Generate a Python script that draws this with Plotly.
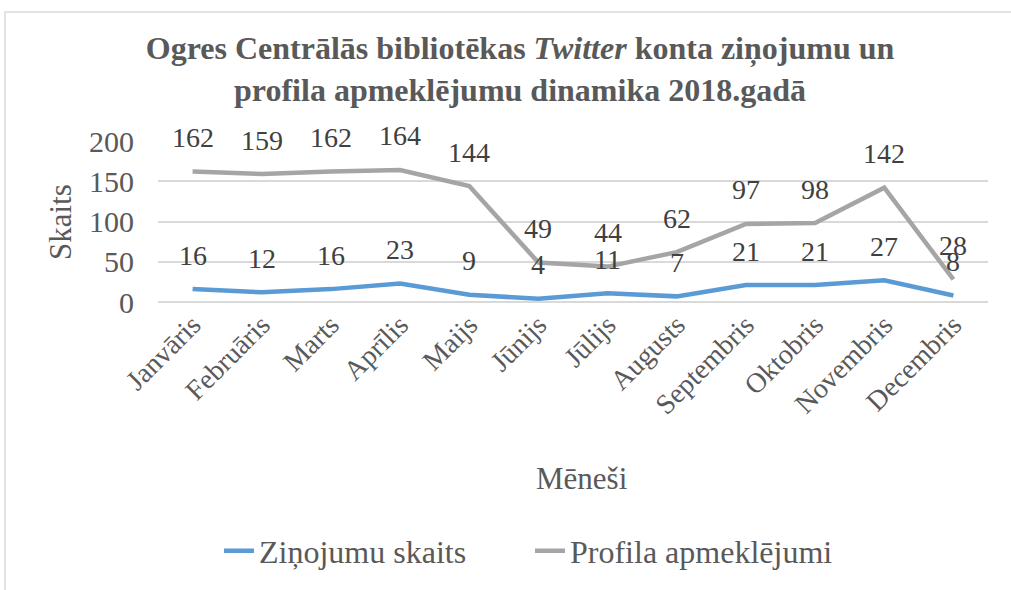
import plotly.graph_objects as go

months = ["Janvāris", "Februāris", "Marts", "Aprīlis", "Maijs", "Jūnijs",
          "Jūlijs", "Augusts", "Septembris", "Oktobris", "Novembris", "Decembris"]
zinojumi = [16, 12, 16, 23, 9, 4, 11, 7, 21, 21, 27, 8]
apmeklejumi = [162, 159, 162, 164, 144, 49, 44, 62, 97, 98, 142, 28]
y_ticks = [0, 50, 100, 150, 200]

FONT = "Liberation Serif"
W, H = 1011, 590
L, R, T, B = 158, 23, 141, 288
PW, PH = W - L - R, H - T - B

def px(X):
    return (X - L) / PW

def py(Y):
    return (H - B - Y) / PH

fig = go.Figure()
fig.add_trace(go.Scatter(x=months, y=zinojumi, mode="lines", name="Ziņojumu skaits",
                         line=dict(color="#5b9bd5", width=4.5)))
fig.add_trace(go.Scatter(x=months, y=apmeklejumi, mode="lines", name="Profila apmeklējumi",
                         line=dict(color="#a5a5a5", width=4.5)))

ann = []
for series in (zinojumi, apmeklejumi):
    for m, v in zip(months, series):
        ann.append(dict(x=m, y=v, xref="x", yref="y", text=str(v), showarrow=False,
                        yshift=34, yanchor="middle",
                        font=dict(family=FONT, size=28, color="#404040")))

ann.append(dict(x=px(60), y=py(222), xref="paper", yref="paper", text="Skaits",
                textangle=-90, showarrow=False, xanchor="center", yanchor="middle",
                font=dict(family=FONT, size=31, color="#595959")))
ann.append(dict(x=px(582), y=py(478), xref="paper", yref="paper", text="Mēneši",
                showarrow=False, xanchor="center", yanchor="middle",
                font=dict(family=FONT, size=31, color="#595959")))

fig.update_layout(
    width=W, height=H,
    margin=dict(l=L, r=R, t=T, b=B),
    paper_bgcolor="white", plot_bgcolor="white",
    font=dict(family=FONT),
    title=dict(text="Ogres Centrālās bibliotēkas <i>Twitter</i> konta ziņojumu un<br>profila apmeklējumu dinamika 2018.gadā",
               x=520 / W, xanchor="center", xref="container",
               y=1 - 59 / H, yanchor="middle", yref="container",
               font=dict(family=FONT, size=32, color="#595959", weight="bold")),
    xaxis=dict(type="category", range=[-0.5, 11.5], tickangle=-45, showgrid=False,
               showline=False, zeroline=False, ticks="", automargin=False,
               tickfont=dict(family=FONT, size=28, color="#595959")),
    yaxis=dict(range=[0, 200], tickvals=y_ticks, showgrid=True, gridcolor="#d9d9d9",
               gridwidth=1.5, zeroline=True, zerolinecolor="#d9d9d9", zerolinewidth=1.5,
               showline=False, ticks="", automargin=False, ticklabelstandoff=23,
               tickfont=dict(family=FONT, size=30, color="#595959")),
    legend=dict(orientation="h", x=px(530), xanchor="center", y=py(551), yanchor="middle",
                font=dict(family=FONT, size=32, color="#595959"), itemwidth=30,
                entrywidth=266, entrywidthmode="pixels"),
    annotations=ann,
    shapes=[dict(type="rect", xref="paper", yref="paper",
                 x0=px(5), x1=px(W + 20), y0=py(H + 20), y1=py(12),
                 line=dict(color="#d9d9d9", width=1.5), fillcolor="rgba(0,0,0,0)",
                 layer="below")],
)

fig.write_html("out.html", config={"displayModeBar": False},
               post_script="document.body.style.margin='0';")
